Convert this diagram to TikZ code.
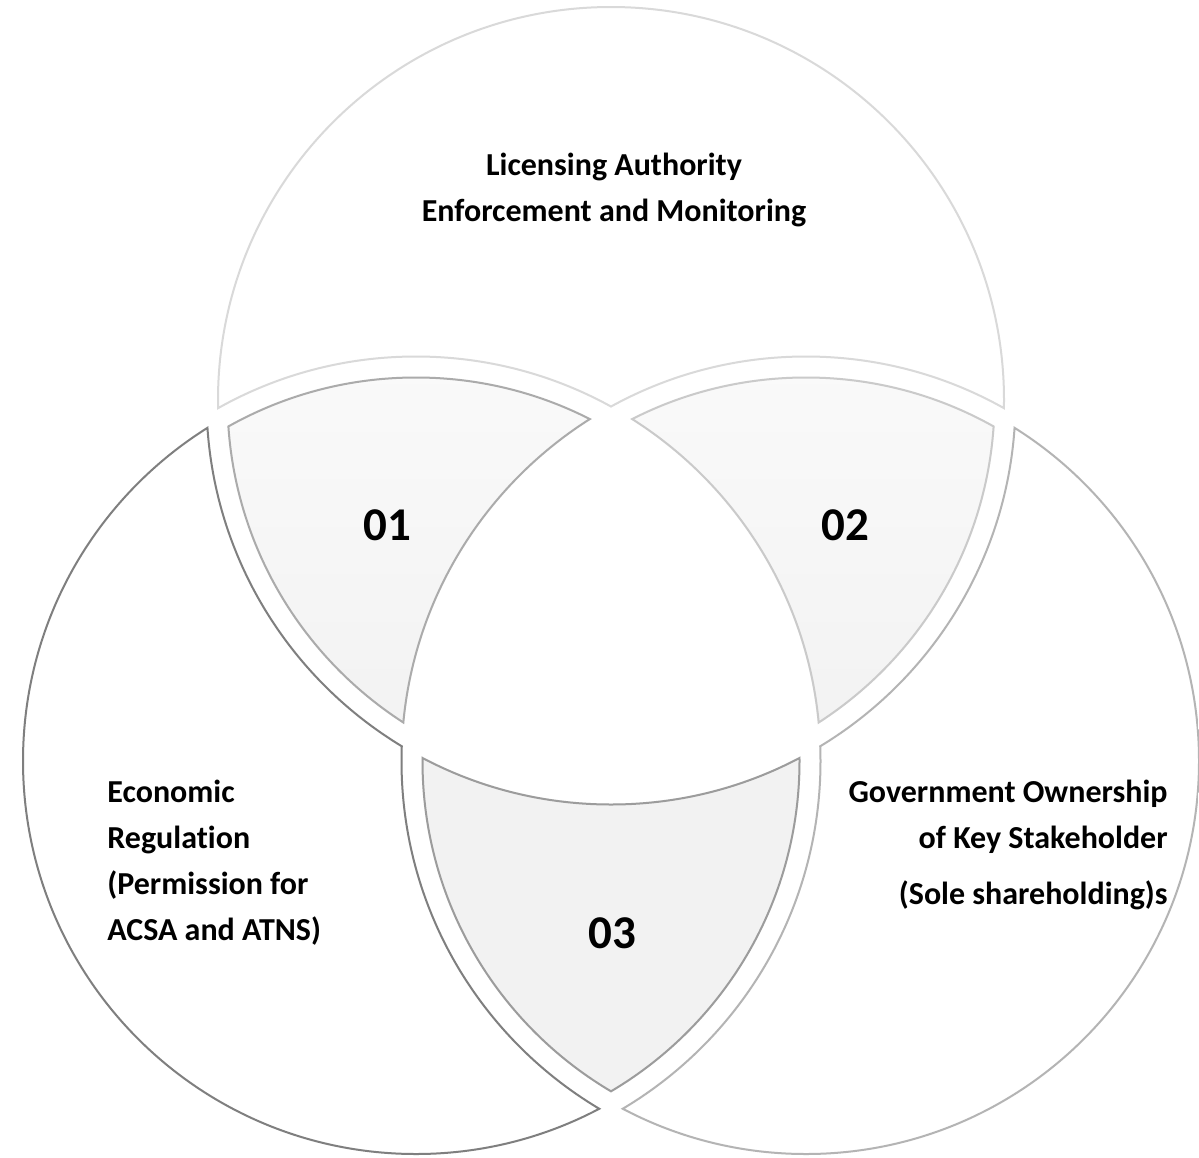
\documentclass[tikz,border=0pt]{standalone}
\usepackage{fontspec}
\setmainfont{Carlito}[Ligatures=NoCommon]
\definecolor{lineA}{HTML}{D9D9D9}
\definecolor{lineB}{HTML}{7F7F7F}
\definecolor{lineC}{HTML}{B4B4B4}
\definecolor{lineAB}{HTML}{ABABAB}
\definecolor{lineAC}{HTML}{CACACA}
\definecolor{lineBC}{HTML}{9C9C9C}
\definecolor{lensTop}{HTML}{FAFAFA}
\definecolor{lensBot}{HTML}{F2F2F2}
\begin{document}
\begin{tikzpicture}[x=0.5pt,y=-0.5pt,line join=round,
	edge/.style={line width=2pt},
	lbl/.style={font=\bfseries\fontsize{16}{23}\selectfont,inner sep=0pt},
	num/.style={font=\bfseries\fontsize{23.5}{28}\selectfont,inner sep=0pt}]
	\fill[white] (0,0) rectangle (1199,1157);
	\useasboundingbox (0,0) rectangle (1199,1157);
	\coordinate (A) at (611,400);
	\coordinate (B) at (416,761);
	\coordinate (C) at (806,761);
	\def\rfull{394}\def\rinner{384.5}\def\router{403.5}
	\begin{scope}[even odd rule]
		\clip (A) circle[radius=\rfull];
		\clip (-50,-50) rectangle (1250,1250) (B) circle[radius=\router];
		\clip (-50,-50) rectangle (1250,1250) (C) circle[radius=\router];
		\draw[edge,lineA] (A) circle[radius=\rfull] (B) circle[radius=\router] (C) circle[radius=\router];
	\end{scope}
	\begin{scope}[even odd rule]
		\clip (B) circle[radius=\rfull];
		\clip (-50,-50) rectangle (1250,1250) (A) circle[radius=\router];
		\clip (-50,-50) rectangle (1250,1250) (C) circle[radius=\router];
		\draw[edge,lineB] (B) circle[radius=\rfull] (A) circle[radius=\router] (C) circle[radius=\router];
	\end{scope}
	\begin{scope}[even odd rule]
		\clip (C) circle[radius=\rfull];
		\clip (-50,-50) rectangle (1250,1250) (A) circle[radius=\router];
		\clip (-50,-50) rectangle (1250,1250) (B) circle[radius=\router];
		\draw[edge,lineC] (C) circle[radius=\rfull] (A) circle[radius=\router] (B) circle[radius=\router];
	\end{scope}
	\begin{scope}[even odd rule]
		\clip (A) circle[radius=\rinner];
		\clip (B) circle[radius=\rinner];
		\clip (-50,-50) rectangle (1250,1250) (C) circle[radius=\router];
		\shade[top color=lensTop,bottom color=lensBot] (180,360) rectangle (620,740);
		\draw[edge,lineAB] (A) circle[radius=\rinner] (B) circle[radius=\rinner] (C) circle[radius=\router];
	\end{scope}
	\begin{scope}[even odd rule]
		\clip (A) circle[radius=\rinner];
		\clip (C) circle[radius=\rinner];
		\clip (-50,-50) rectangle (1250,1250) (B) circle[radius=\router];
		\shade[top color=lensTop,bottom color=lensBot] (600,360) rectangle (1040,740);
		\draw[edge,lineAC] (A) circle[radius=\rinner] (C) circle[radius=\rinner] (B) circle[radius=\router];
	\end{scope}
	\begin{scope}[even odd rule]
		\clip (B) circle[radius=\rinner];
		\clip (C) circle[radius=\rinner];
		\clip (-50,-50) rectangle (1250,1250) (A) circle[radius=\router];
		\fill[lensBot] (380,740) rectangle (840,1160);
		\draw[edge,lineBC] (B) circle[radius=\rinner] (C) circle[radius=\rinner] (A) circle[radius=\router];
	\end{scope}
	\node[lbl,align=center] (licence) at (614,190) {Licensing Authority\\Enforcement and Monitoring};
	\node[lbl,align=left,anchor=west] (econ) at (107,863) {Economic\\Regulation\\(Permission for\\ACSA and ATNS)};
	\node[lbl,align=right,anchor=east] (gov) at (1168,845) {Government Ownership\\of Key Stakeholder\\[5pt](Sole shareholding)s};
	\node[num] (n01) at (387,525) {01};
	\node[num] (n02) at (845,525) {02};
	\node[num] (n03) at (612,933) {03};
\end{tikzpicture}
\end{document}
